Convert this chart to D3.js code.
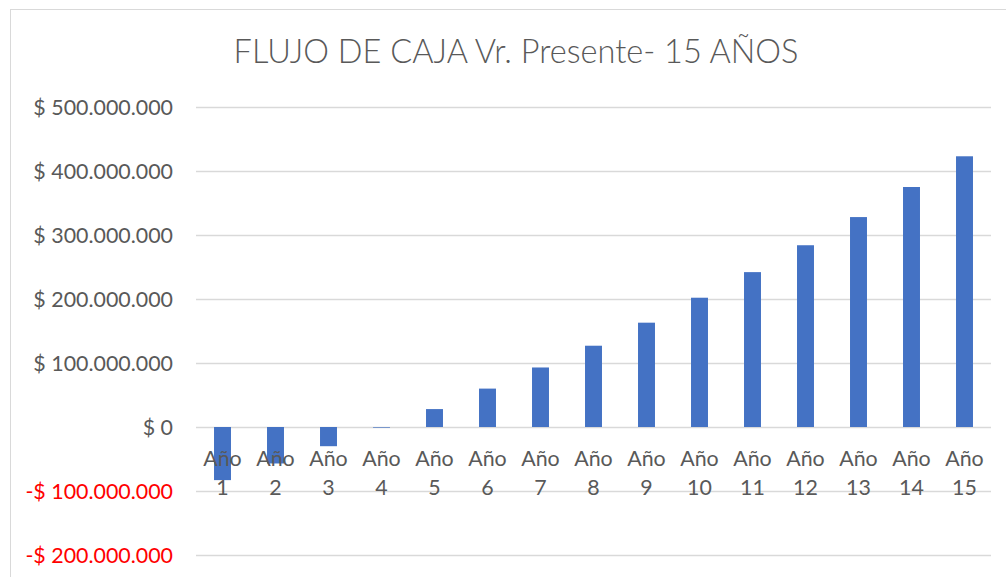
<!DOCTYPE html>
<html>
<head>
<meta charset="utf-8">
<script src="https://cdn.jsdelivr.net/npm/d3@7"></script>
<style>
  body { margin: 0; background: #fff; }
  svg { display: block; font-family: Lato, "Open Sans", sans-serif; }
</style>
</head>
<body>
<div class="vis"></div>
<script>
const years = ["1", "2", "3", "4", "5", "6", "7", "8", "9", "10", "11", "12", "13", "14", "15"];
const flujo = [-83000000, -57000000, -30000000, -1000000, 28000000, 60000000, 93000000, 127000000,
  163000000, 202000000, 242000000, 284000000, 328000000, 375000000, 423000000];
const yTicks = [-200000000, -100000000, 0, 100000000, 200000000, 300000000, 400000000, 500000000];
const title = "FLUJO DE CAJA Vr. Presente- 15 AÑOS";

const W = 1006, H = 577;
const margin = { top: 107, right: 15, bottom: 22, left: 196 };

const svg = d3.select(".vis").append("svg")
  .attr("width", W)
  .attr("height", H);

// chart area border
svg.append("rect")
  .attr("x", 10.5).attr("y", 9.5)
  .attr("width", W).attr("height", H)
  .attr("fill", "#fff")
  .attr("stroke", "#d9d9d9");

const x = d3.scaleBand()
  .domain(years)
  .range([margin.left, W - margin.right])
  .paddingInner(0.68)
  .paddingOuter(0.34);

const y = d3.scaleLinear()
  .domain([-200000000, 500000000])
  .range([H - margin.bottom, margin.top]);

const locale = d3.formatLocale({
  decimal: ",", thousands: ".", grouping: [3], currency: ["$ ", ""], minus: "-"
});
const fmt = locale.format("$,.0f");

// gridlines
svg.append("g")
  .selectAll("line")
  .data(yTicks)
  .join("line")
  .attr("x1", margin.left)
  .attr("x2", W - margin.right)
  .attr("y1", d => Math.round(y(d)) + 0.5)
  .attr("y2", d => Math.round(y(d)) + 0.5)
  .attr("stroke", "#d9d9d9")
  .attr("stroke-width", 1.5);

// y labels
svg.append("g")
  .selectAll("text")
  .data(yTicks)
  .join("text")
  .attr("x", 173)
  .attr("y", d => y(d) + 7.5)
  .attr("text-anchor", "end")
  .attr("font-size", 21.4)
  .attr("fill", d => d < 0 ? "#ff0000" : "#595959")
  .text(d => fmt(d));

// bars
svg.append("g")
  .selectAll("rect")
  .data(flujo)
  .join("rect")
  .attr("x", (d, i) => x(years[i]))
  .attr("width", x.bandwidth())
  .attr("y", d => y(Math.max(0, d)))
  .attr("height", d => Math.abs(y(d) - y(0)))
  .attr("fill", "#4472c4");

// category labels, two lines
const cat = svg.append("g")
  .selectAll("text")
  .data(years)
  .join("text")
  .attr("text-anchor", "middle")
  .attr("font-size", 21.4)
  .attr("fill", "#595959");
cat.append("tspan")
  .attr("x", d => x(d) + x.bandwidth() / 2)
  .attr("y", y(0) + 39)
  .text("Año");
cat.append("tspan")
  .attr("x", d => x(d) + x.bandwidth() / 2)
  .attr("y", y(0) + 68)
  .text(d => d);

// title
svg.append("text")
  .attr("x", 516)
  .attr("y", 63)
  .attr("text-anchor", "middle")
  .attr("font-size", 32.5)
  .attr("font-weight", 300)
  .attr("fill", "#595959")
  .text(title);
</script>
</body>
</html>
